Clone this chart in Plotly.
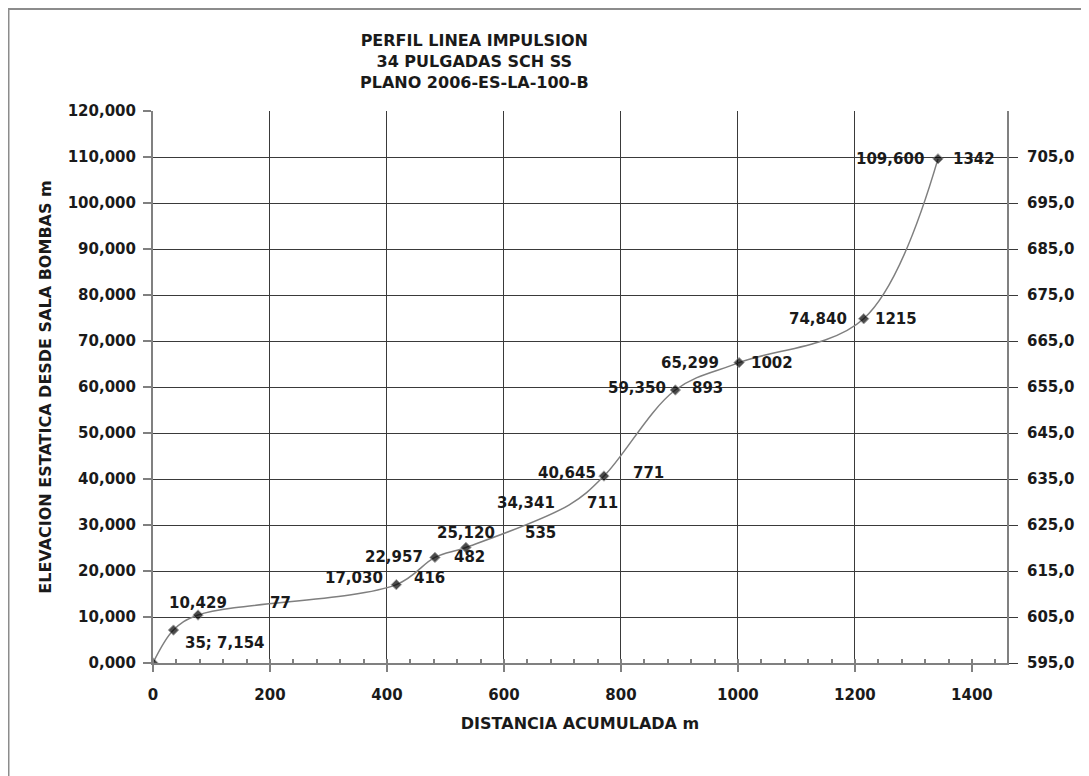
import plotly.graph_objects as go

# Profile points: accumulated distance (m) and static elevation (m)
distancia = [0, 35, 77, 416, 482, 535, 711, 771, 893, 1002, 1215, 1342]
elevacion = [0.0, 7.154, 10.429, 17.030, 22.957, 25.120, 34.341, 40.645,
             59.350, 65.299, 74.840, 109.600]
cota_base = 595.0  # right axis = elevation + 595

x_ticks = [0, 200, 400, 600, 800, 1000, 1200, 1400]
x_grid = [200, 400, 600, 800, 1000, 1200]
y_ticks = [0, 10, 20, 30, 40, 50, 60, 70, 80, 90, 100, 110, 120]
y2_ticks = [595, 605, 615, 625, 635, 645, 655, 665, 675, 685, 695, 705]

titulo = "PERFIL LINEA IMPULSION<br>34 PULGADAS SCH SS<br>PLANO 2006-ES-LA-100-B"

# label placement per point: (left xshift, right xshift, yshift), pixels
lbl_pos = [None,
           ("combo", 10, -13),
           ("up", 70, 12),
           (-11, 16, 7),
           (-10, 17, 0),
           ("up", 57, 14),
           (-12, 16, 2),
           (-6, 27, 3),
           (-7, 15, 2),
           (-18, 10, 0),
           (-15, 9, 0),
           (-12, 13, 0)]
marker_size = [8, 8, 8, 8, 8, 8, 0, 8, 8, 8, 8, 8]

FONT = "DejaVu Sans"
TXT = "#1a1a1a"
lbl_font = dict(family=FONT, size=15, color=TXT, weight="bold")


def fmt(v, nd=3):
    return f"{v:.{nd}f}".replace(".", ",")


fig = go.Figure()

fig.add_trace(go.Scatter(x=distancia, y=elevacion,
                         mode="lines+markers",
                         line=dict(color="#7f7f7f", width=1.5, shape="spline", smoothing=1.0),
                         marker=dict(symbol="diamond", size=marker_size, color="black"),
                         showlegend=False, hoverinfo="x+y"))

# invisible companion trace for the right-hand axis and the grid
fig.add_trace(go.Scatter(x=distancia, y=[e + cota_base for e in elevacion],
                         xaxis="x2", yaxis="y2", mode="lines",
                         line=dict(width=0), opacity=0,
                         showlegend=False, hoverinfo="skip"))

annotations = []
for d, e, pos in zip(distancia, elevacion, lbl_pos):
    if pos is None:
        continue
    left, right, dy = pos
    if left == "combo":
        annotations.append(dict(x=d, y=e, text=f"{d}; {fmt(e)}", showarrow=False,
                                xanchor="left", xshift=right, yshift=dy, font=lbl_font))
        continue
    if left == "up":
        annotations.append(dict(x=d, y=e, text=fmt(e), showarrow=False,
                                xanchor="center", xshift=0, yshift=dy, font=lbl_font))
    else:
        annotations.append(dict(x=d, y=e, text=fmt(e), showarrow=False,
                                xanchor="right", xshift=left, yshift=dy, font=lbl_font))
    annotations.append(dict(x=d, y=e, text=str(d), showarrow=False,
                            xanchor="left", xshift=right, yshift=dy, font=lbl_font))

annotations.append(dict(text=titulo, xref="paper", yref="paper", x=0.377, y=1.09,
                        xanchor="center", yanchor="middle", showarrow=False,
                        font=dict(family=FONT, size=16, color=TXT, weight="bold")))

fig.update_layout(
    width=1081, height=768,
    margin=dict(l=145, r=82, t=103, b=113),
    paper_bgcolor="white", plot_bgcolor="white",
    separators=",.",
    font=dict(family=FONT, size=15, color=TXT, weight="bold"),
    annotations=annotations,
    shapes=[dict(type="rect", xref="paper", yref="paper",
                 x0=-0.1698, x1=1.12, y0=-0.3, y1=1.1857,
                 line=dict(color="#8c8c8c", width=3))],
    xaxis=dict(range=[0, 1460], tickvals=x_ticks, ticktext=[str(v) for v in x_ticks],
               showgrid=False, zeroline=False,
               showline=True, linecolor="#808080", linewidth=2,
               ticks="outside", ticklen=7, tickcolor="#808080", tickwidth=1.5,
               ticklabelstandoff=10,
               tickfont=dict(family=FONT, size=15, color=TXT, weight="bold"),
               minor=dict(dtick=40, tick0=0, ticks="inside", ticklen=4,
                          tickcolor="#808080", tickwidth=1.5, showgrid=False),
               title=dict(text="DISTANCIA ACUMULADA m", standoff=15,
                          font=dict(family=FONT, size=16, color=TXT, weight="bold"))),
    yaxis=dict(range=[0, 120], tickvals=y_ticks, tickformat=".3f",
               showgrid=False, zeroline=False,
               showline=True, linecolor="#808080", linewidth=2,
               ticks="outside", ticklen=8, tickcolor="#808080", tickwidth=1.5,
               ticklabelstandoff=4,
               tickfont=dict(family=FONT, size=15, color=TXT, weight="bold"),
               title=dict(text="ELEVACION ESTATICA DESDE SALA BOMBAS m", standoff=12,
                          font=dict(family=FONT, size=16, color=TXT, weight="bold"))),
    xaxis2=dict(overlaying="x", anchor="y", range=[0, 1460], tickvals=x_grid,
                showticklabels=False, ticks="", showline=False, zeroline=False,
                showgrid=True, gridcolor="#3a3a3a", gridwidth=1),
    yaxis2=dict(overlaying="y", anchor="x2", side="right", range=[595, 715],
                tickvals=y2_ticks, tickformat=".1f",
                showgrid=True, gridcolor="#3a3a3a", gridwidth=1, zeroline=False,
                showline=True, linecolor="#808080", linewidth=2,
                ticks="outside", ticklen=9, tickcolor="#3a3a3a", tickwidth=1,
                ticklabelstandoff=6,
                tickfont=dict(family=FONT, size=15, color=TXT, weight="bold")),
)

fig.write_html("out.html")
